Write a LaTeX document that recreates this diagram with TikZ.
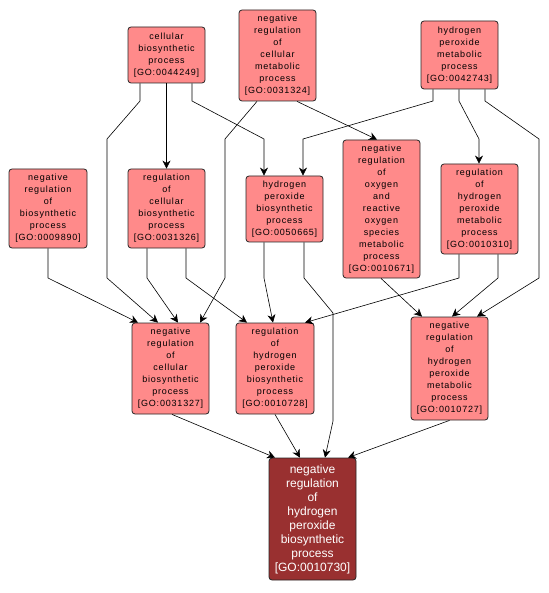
\documentclass[tikz,border=0pt]{standalone}
\usepackage{fontspec}
\usetikzlibrary{arrows.meta}
\newfontfamily\gofont[LetterSpace=9]{Liberation Sans}
\newfontfamily\gobig{Liberation Sans}
\definecolor{gofill}{RGB}{255,138,138}
\definecolor{godark}{RGB}{153,48,48}
\begin{document}
\begin{tikzpicture}[x=1pt,y=-1pt,
  gobox/.style={draw=black!85, line width=0.8pt, fill=gofill, rounded corners=3pt,
    inner sep=0pt, align=center, font=\gofont\fontsize{9}{12}\selectfont},
  gomain/.style={draw=black!85, line width=0.8pt, fill=godark, rounded corners=3pt,
    inner sep=0pt, align=center, text=white, font=\gobig\fontsize{12}{14}\selectfont},
  edge/.style={draw=black, line width=0.6pt, -{Stealth[length=8pt,width=8pt,inset=2.5pt]}}]
\useasboundingbox (0,0) rectangle (548,593);
\fill[white] (0,0) rectangle (548,593);

\node[gobox, minimum width=77, minimum height=56] (n44249) at (166.5,55) {cellular\\biosynthetic\\process\\{[GO:0044249]}};
\node[gobox, minimum width=77, minimum height=91] (n31324) at (277.5,55.5) {negative\\regulation\\of\\cellular\\metabolic\\process\\{[GO:0031324]}};
\node[gobox, minimum width=77, minimum height=68] (n42743) at (459.5,55) {hydrogen\\peroxide\\metabolic\\process\\{[GO:0042743]}};
\node[gobox, minimum width=78, minimum height=79] (n09890) at (48,208.5) {negative\\regulation\\of\\biosynthetic\\process\\{[GO:0009890]}};
\node[gobox, minimum width=77, minimum height=79] (n31326) at (166.5,208.5) {regulation\\of\\cellular\\biosynthetic\\process\\{[GO:0031326]}};
\node[gobox, minimum width=77, minimum height=66] (n50665) at (284.5,209) {hydrogen\\peroxide\\biosynthetic\\process\\{[GO:0050665]}};
\node[gobox, minimum width=77, minimum height=138] (n10671) at (381.5,209) {negative\\regulation\\of\\oxygen\\and\\reactive\\oxygen\\species\\metabolic\\process\\{[GO:0010671]}};
\node[gobox, minimum width=77, minimum height=90] (n10310) at (479.5,209) {regulation\\of\\hydrogen\\peroxide\\metabolic\\process\\{[GO:0010310]}};
\node[gobox, minimum width=77, minimum height=91] (n31327) at (170.5,368.5) {negative\\regulation\\of\\cellular\\biosynthetic\\process\\{[GO:0031327]}};
\node[gobox, minimum width=78, minimum height=91] (n10728) at (275,368.5) {regulation\\of\\hydrogen\\peroxide\\biosynthetic\\process\\{[GO:0010728]}};
\node[gobox, minimum width=77, minimum height=103] (n10727) at (449.5,368.5) {negative\\regulation\\of\\hydrogen\\peroxide\\metabolic\\process\\{[GO:0010727]}};
\node[gomain, minimum width=87, minimum height=122] (n10730) at (312.5,519) {negative\\regulation\\of\\hydrogen\\peroxide\\biosynthetic\\process\\{[GO:0010730]}};

% edges
\draw[edge] (n44249.south) -- (n31326.north);
\draw[edge] ([xshift=-26.5]n44249.south) -- (140,101) -- (107,139) -- (107,278) -- ([xshift=-12.5]n31327.north);
\draw[edge] ([xshift=25.5]n44249.south) -- (192,101) -- (264,139) -- ([xshift=-20.5]n50665.north);
\draw[edge] ([xshift=-20.5]n31324.south) -- (225,139) -- (225,278) -- ([xshift=29.5]n31327.north);
\draw[edge] ([xshift=19.5]n31324.south) -- ([xshift=-4.5]n10671.north);
\draw[edge] ([xshift=-26.5]n42743.south) -- (433,101) -- (303,139) -- ([xshift=18.5]n50665.north);
\draw[edge] ([xshift=-0.5]n42743.south) -- (459,101) -- (479,139) -- ([xshift=-0.5]n10310.north);
\draw[edge] ([xshift=25.5]n42743.south) -- (485,101) -- (539,139) -- (539,278) -- ([xshift=27.5]n10727.north);
\draw[edge] (n09890.south) -- (48,278) -- ([xshift=-32.5]n31327.north);
\draw[edge] ([xshift=-19.5]n31326.south) -- (147,278) -- ([xshift=7.5]n31327.north);
\draw[edge] ([xshift=19.5]n31326.south) -- (186,278) -- ([xshift=-28]n10728.north);
\draw[edge] ([xshift=-20.5]n50665.south) -- (264,278) -- ([xshift=-2]n10728.north);
\draw[edge] ([xshift=19.5]n50665.south) -- (304,278) -- (333,313) -- (333,421) -- ([xshift=12.5]n10730.north);
\draw[edge] ([xshift=18.5]n10310.south) -- (498,278) -- ([xshift=2.5]n10727.north);
\draw[edge] ([xshift=-20.5]n10310.south) -- (459,278) -- ([xshift=30]n10728.north);
\draw[edge] ([xshift=-0.5]n10671.south) -- ([xshift=-27.5]n10727.north);
\draw[edge] ([xshift=1.5]n31327.south) -- ([xshift=-37.5]n10730.north);
\draw[edge] (n10728.south) -- ([xshift=-12.5]n10730.north);
\draw[edge] (n10727.south) -- ([xshift=35.5]n10730.north);
\end{tikzpicture}
\end{document}
